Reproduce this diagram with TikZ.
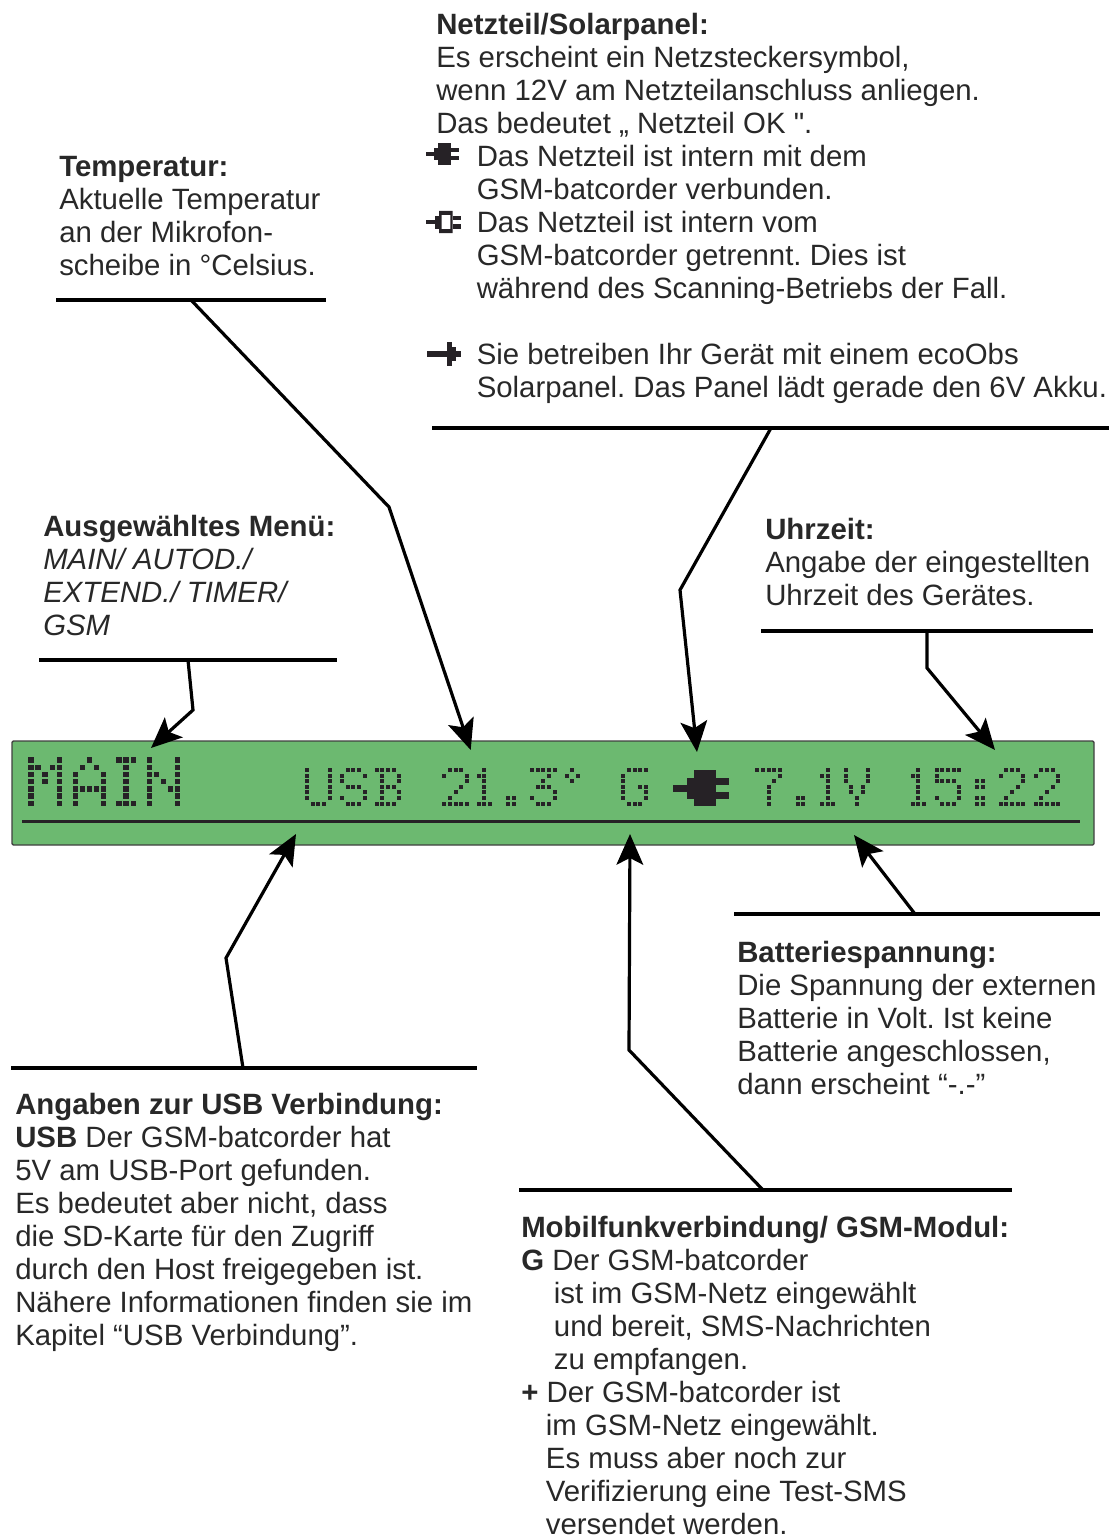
\documentclass[tikz,border=0pt]{standalone}
\usepackage{fontspec}
\setmainfont[Ligatures=TeXOff]{Liberation Sans}
\usepackage{tikz}
\usetikzlibrary{arrows.meta,shapes}
\definecolor{lcdgreen}{RGB}{108,185,112}
\definecolor{lcdink}{RGB}{38,34,38}
\definecolor{inktext}{RGB}{40,40,40}
\tikzstyle{lcdbox}=[rectangle,draw=black!75,line width=1pt,fill=lcdgreen,rounded corners=1pt,minimum width=811.5pt,minimum height=78pt,inner sep=0pt]
\tikzstyle{lcdtext}=[inner sep=0pt,text opacity=0,font=\fontsize{20}{24}\selectfont]
\tikzstyle{lcddot}=[fill=lcdink,draw=none]
\tikzstyle{infotext}=[anchor=north west,inner sep=0pt,align=left,text=inktext,font=\fontsize{22.03}{24.75}\selectfont\frenchspacing]
\tikzstyle{ruleline} = [draw,line width=2.3pt,-,black]
\tikzstyle{edge} = [draw,line width=2.4pt,black,-{Stealth[length=23pt,width=20pt,inset=5pt]}]
% dot patterns of the display, seven rows of five
\newcommand{\lcddef}[2]{\expandafter\def\csname lcd#1\endcsname{#2}}
\lcddef{M}{10001,11011,10101,10101,10001,10001,10001}
\lcddef{A}{00100,01010,10001,10001,11111,10001,10001}
\lcddef{I}{01110,00100,00100,00100,00100,00100,01110}
\lcddef{N}{10001,10001,11001,10101,10011,10001,10001}
\lcddef{U}{10001,10001,10001,10001,10001,10001,01110}
\lcddef{S}{01110,10001,10000,01110,00001,10001,01110}
\lcddef{B}{11110,01001,01001,01110,01001,01001,11110}
\lcddef{G}{01111,10000,10000,10011,10001,10001,01110}
\lcddef{V}{10001,10001,10001,01010,01010,00100,00100}
\lcddef{1}{00100,01100,00100,00100,00100,00100,01110}
\lcddef{2}{01110,10001,00001,00010,00100,01000,11111}
\lcddef{3}{11111,00010,00100,01110,00001,10001,01110}
\lcddef{5}{11111,10000,11110,00001,00001,10001,01110}
\lcddef{7}{11111,00001,00010,00100,00100,00100,00100}
\lcddef{p}{00000,00000,00000,00000,00000,11000,11000}
\lcddef{c}{00000,00000,11000,11000,00000,11000,11000}
\lcddef{o}{01000,10100,01000,00000,00000,00000,00000}
\newcommand{\lcdscan}[5]{%
    \foreach \bit [count=\colno from 0] in {#1,#2,#3,#4,#5} {
        \ifnum\bit=1
            \fill[lcddot] ({\xo+\colno*\dx-\dsize/2},{\yo+\rowno*\dy-\dsize/2}) rectangle +(\dsize,\dsize);
        \fi
    }%
}
\newcommand{\lcdglyph}[1]{%
    \edef\lcdrows{\csname lcd#1\endcsname}%
    \foreach \rowbits [count=\rowno from 0] in \lcdrows {\expandafter\lcdscan\rowbits}%
}
\tikzset{
    plugfull/.pic={
        \fill (-27.7,-3) rectangle (-13.7,3.7);
        \fill (-13.7,-10.3) rectangle (-6.7,11);
        \fill (-6.7,-18) rectangle (15,18);
        \fill (15,-10.3) rectangle (28.3,-3.3);
        \fill (15,4) rectangle (28.3,11);
    },
    plugopen/.pic={
        \fill[even odd rule] (-6.7,-18) rectangle (15,18) (-2.5,-11.5) rectangle (11.5,11.5);
        \fill (-27.7,-3) rectangle (-13.7,3.7);
        \fill (-13.7,-10.3) rectangle (-6.7,11);
        \fill (15,-10.3) rectangle (28.3,-3.3);
        \fill (15,4) rectangle (28.3,11);
    },
    plugsolar/.pic={
        \fill (-16,-2.6) rectangle (17.7,2.6);
        \fill (3.7,-7) rectangle (13,7);
        \fill (3.7,-12) rectangle (9,12);
    }
}
\begin{document}
\begin{tikzpicture}[x=0.75pt,y=-0.75pt]
    \useasboundingbox (0,0) rectangle (1113,1537);
    % Draw the display first
    \node[lcdbox] (lcd) at (553,793) {};
    \fill[lcdink] (21.5,819.8) rectangle (1080,823.2);
    \foreach \ch/\xo in {M/31,A/75.3,I/112,N/149.3} {
        \def\yo{760}\def\dx{7.08}\def\dy{7.2}\def\dsize{5.4}
        \lcdglyph{\ch}
    }
    \foreach \ch/\xo in {U/307,S/342,B/376.7,2/444.3,1/473,p/508.3,3/532,o/566.7,G/623.3,7/757.3,p/797.7,1/816.3,V/845.7,1/907,5/936.7,c/977.3,2/1000.7,2/1035.7} {
        \def\yo{770}\def\dx{5.67}\def\dy{5.6}\def\dsize{4.1}
        \lcdglyph{\ch}
    }
    \pic[lcdink] at (701,788) {plugfull};
    % The display text again, as a text layer over the dots
    \node[lcdtext] (lcdmain) at (105,782) {MAIN};
    \node[lcdtext] (lcdusb) at (354,787) {USB};
    \node[lcdtext] (lcdtemp) at (510,787) {21.3°};
    \node[lcdtext] (lcdgsm) at (634,787) {G};
    \node[lcdtext] (lcdvolt) at (812,787) {7.1V};
    \node[lcdtext] (lcdtime) at (984,787) {15:22};
    % Then the text blocks
    \node[infotext] (netzhead) at (436,13) {\textbf{Netzteil/Solarpanel:}\\Es erscheint ein Netzsteckersymbol,\\wenn 12V am Netzteilanschluss anliegen.\\Das bedeutet „ Netzteil OK ".};
    \node[infotext] (netzbody) at (476.5,145) {Das Netzteil ist intern mit dem\\GSM-batcorder verbunden.\\Das Netzteil ist intern vom\\GSM-batcorder getrennt. Dies ist\\während des Scanning-Betriebs der Fall.\\~\\Sie betreiben Ihr Gerät mit einem ecoObs\\Solarpanel. Das Panel lädt gerade den 6V Akku.};
    \node[infotext] (temp) at (59,156) {\textbf{Temperatur:}\\Aktuelle Temperatur\\an der Mikrofon-\\scheibe in °Celsius.};
    \node[infotext] (menu) at (43,515) {\textbf{Ausgewähltes Menü:}\\\textit{MAIN/ AUTOD./}\\\textit{EXTEND./ TIMER/}\\\textit{GSM}};
    \node[infotext] (clock) at (765,518) {\textbf{Uhrzeit:}\\Angabe der eingestellten\\Uhrzeit des Gerätes.};
    \node[infotext] (battery) at (737,941) {\textbf{Batteriespannung:}\\Die Spannung der externen\\Batterie in Volt. Ist keine\\Batterie angeschlossen,\\dann erscheint “-.-”};
    \node[infotext] (usbinfo) at (15,1093) {\textbf{Angaben zur USB Verbindung:}\\\textbf{USB} Der GSM-batcorder hat\\5V am USB-Port gefunden.\\Es bedeutet aber nicht, dass\\die SD-Karte für den Zugriff\\durch den Host freigegeben ist.\\Nähere Informationen finden sie im\\Kapitel “USB Verbindung”.};
    \node[infotext] (gsminfo) at (521,1216) {\textbf{Mobilfunkverbindung/ GSM-Modul:}\\\textbf{G} Der GSM-batcorder\\\hspace*{24.5pt}ist im GSM-Netz eingewählt\\\hspace*{24.5pt}und bereit, SMS-Nachrichten\\\hspace*{24.5pt}zu empfangen.\\\textbf{+} Der GSM-batcorder ist\\\hspace*{18.5pt}im GSM-Netz eingewählt.\\\hspace*{18.5pt}Es muss aber noch zur\\\hspace*{18.5pt}Verifizierung eine Test-SMS\\\hspace*{18.5pt}versendet werden.};
    % The little plug symbols beside the text
    \pic[lcdink,scale=0.6] at (442.3,153.8) {plugfull};
    \pic[lcdink,scale=0.62] at (443.2,222) {plugopen};
    \pic[lcdink] at (443,354) {plugsolar};
    % Rules under and over the text blocks
    \path (56,300) coordinate (templ) (326,300) coordinate (tempr) (432,428) coordinate (netzl) (1109,428) coordinate (netzr)
        (39,660) coordinate (menul) (337,660) coordinate (menur) (761,631) coordinate (clockl) (1093,631) coordinate (clockr)
        (11,1068) coordinate (usbl) (477,1068) coordinate (usbr) (519,1190) coordinate (gsml) (1012,1190) coordinate (gsmr)
        (734,914) coordinate (batl) (1100,914) coordinate (batr);
    \foreach \source/\dest in {templ/tempr, netzl/netzr, menul/menur, clockl/clockr, usbl/usbr, gsml/gsmr, batl/batr} {
        \path[ruleline] (\source) -- (\dest) ;
    }
    % Connect rules with the display
    \path (191,300) coordinate (tempa) (389,507) coordinate (tempb) (470.7,750) coordinate (tempc)
        (771,428) coordinate (netza) (680,590) coordinate (netzb) (697,752) coordinate (netzc)
        (188,660) coordinate (menua) (193,710) coordinate (menub) (151,748) coordinate (menuc)
        (927,631) coordinate (clocka) (927,668) coordinate (clockb) (995,750) coordinate (clockc)
        (243,1068) coordinate (usba) (226,958) coordinate (usbb) (296,834) coordinate (usbc)
        (763,1190) coordinate (gsma) (629,1050) coordinate (gsmb) (630,834) coordinate (gsmc)
        (915,914) coordinate (bata) (854,835) coordinate (batc);
    \foreach \source/\bend/\dest in {tempa/tempb/tempc, netza/netzb/netzc, menua/menub/menuc, clocka/clockb/clockc, usba/usbb/usbc, gsma/gsmb/gsmc} {
        \path[edge] (\source) -- (\bend) -- (\dest) ;
    }
    \path[edge] (bata) -- (batc) ;
\end{tikzpicture}
\end{document}
